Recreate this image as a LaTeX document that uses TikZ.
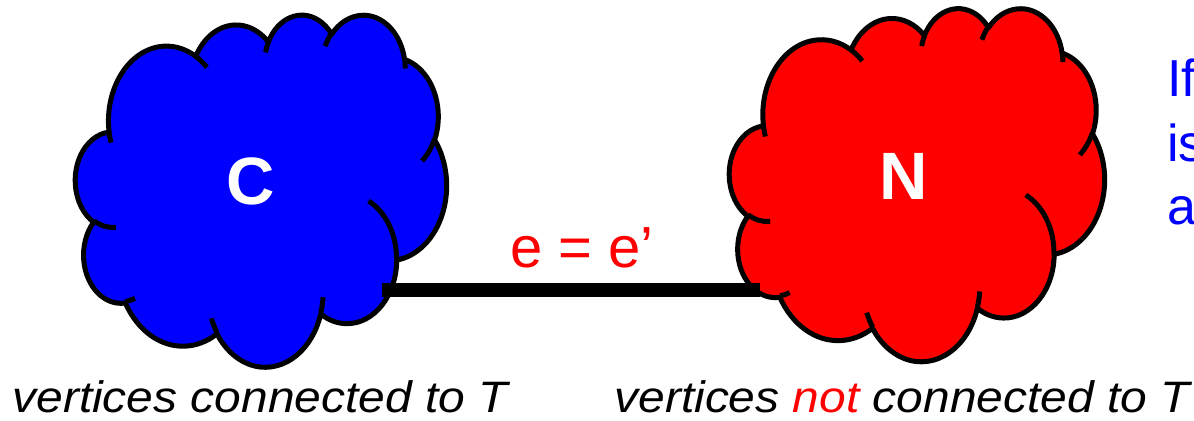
\documentclass[tikz,border=0pt]{standalone}
\usepackage{fontspec}
\setmainfont{Liberation Sans}
\usepackage{graphicx}
\definecolor{cblue}{RGB}{0,0,255}
\definecolor{cred}{RGB}{255,0,0}
\tikzset{
  declare function={v2p(\aa,\rx,\ry)=\aa + mod(mod(atan2(\rx*sin(\aa),\ry*cos(\aa)) - \aa + 180, 360) + 360, 360) - 180;},
  cloudline/.style={draw=black, line width=2.5pt, line join=round},
  bottomtext/.style={inner sep=0pt, anchor=base west, font=\fontsize{22pt}{26pt}\selectfont\itshape},
  sidetext/.style={inner sep=0pt, anchor=base west, text=cblue, font=\fontsize{26pt}{32pt}\selectfont},
  edgelabel/.style={inner sep=0pt, anchor=base west, text=cred, font=\fontsize{29pt}{34pt}\selectfont},
  cloudlabel/.style={inner sep=0pt, anchor=base, text=white, font=\fontsize{33.5pt}{40pt}\selectfont\bfseries},
  edgeline/.style={draw=black, line width=7pt},
}
\newcommand\oa[4]{arc[x radius=#1, y radius=#2, start angle={v2p(#3,#1,#2)}, end angle={v2p(#3+#4,#1,#2)}]}
\newcommand\drawcloud[5]{%
  \pgfmathsetmacro\cux{#4*0.5/43.2}%
  \pgfmathsetmacro\cuy{#5*0.5/43.2}%
  \begin{scope}[shift={(#2,#3)}, x=\cux pt, y=-\cuy pt]
    \filldraw[cloudline, fill=#1] (3.900,14.370)
      \oa{6.753}{9.190}{-190.4875}{123.7805}
      \oa{5.333}{7.267}{-144.1024}{89.9452}
      \oa{4.365}{5.945}{-145.8079}{99.7230}
      \oa{4.857}{6.595}{-130.9861}{117.2417}
      \oa{5.333}{7.273}{-78.7089}{109.0269}
      \oa{6.775}{9.220}{-46.2673}{130.2690}
      \oa{5.785}{7.867}{0.6250}{114.0333}
      \oa{6.752}{9.215}{22.4516}{115.1726}
      \oa{7.720}{10.543}{66.2426}{75.7110}
      \oa{4.360}{5.918}{-274.9421}{146.7356}
      \oa{4.345}{5.945}{-246.8285}{152.5189}
      -- cycle;
    \draw[cloudline, line cap=butt]
      (4.693,26.177) \oa{4.345}{5.945}{86.7420}{26.4295}
      (6.928,34.899) \oa{4.360}{5.918}{73.6105}{11.4475}
      (16.478,39.090) \oa{6.752}{9.215}{137.6242}{14.0811}
      (28.827,34.751) \oa{6.752}{9.215}{6.4533}{15.9984}
      (34.129,22.954) \oa{5.785}{7.867}{-70.2924}{70.9174}
      (41.798,15.354) \oa{5.333}{7.273}{30.3180}{27.7515}
      (38.324,5.426) \oa{4.857}{6.595}{-13.7443}{14.8589}
      (29.078,3.952) \oa{4.857}{6.595}{-149.1815}{18.1954}
      (22.141,4.720) \oa{4.365}{5.945}{-163.4943}{17.6864}
      (14.000,5.192) \oa{6.753}{9.190}{-66.7070}{12.3194}
      (4.127,15.789) \oa{6.753}{9.190}{157.6544}{11.8582};
  \end{scope}}
\begin{document}
\begin{tikzpicture}[x=0.5pt, y=-0.5pt]
  \useasboundingbox (0,0) rectangle (1194,421);
  % clouds
  \drawcloud{cblue}{75.5}{14}{371}{352}
  \drawcloud{cred}{729.5}{7.5}{375}{353}
  \node[cloudlabel] (C) at (251,205) {C};
  \node[cloudlabel] (N) at (904,200) {N};
  % edge
  \coordinate (eL) at (382,290);
  \coordinate (eR) at (760,290);
  \draw[edgeline] (eL) -- (eR);
  \node[edgelabel] (elab) at (510,268) {e = e’};
  % side text (cut off at the right border)
  \node[sidetext] (s1) at (1167,97) {If};
  \node[sidetext] (s2) at (1167,162) {is};
  \node[sidetext] (s3) at (1167,225) {a};
  % bottom captions
  \node[bottomtext] (capC) at (12,413) {\scalebox{1.09}[1]{vertices connected to T}};
  \node[bottomtext] (capN) at (614,413) {\scalebox{1.09}[1]{vertices \textcolor{cred}{not} connected to T}};
\end{tikzpicture}
\end{document}
